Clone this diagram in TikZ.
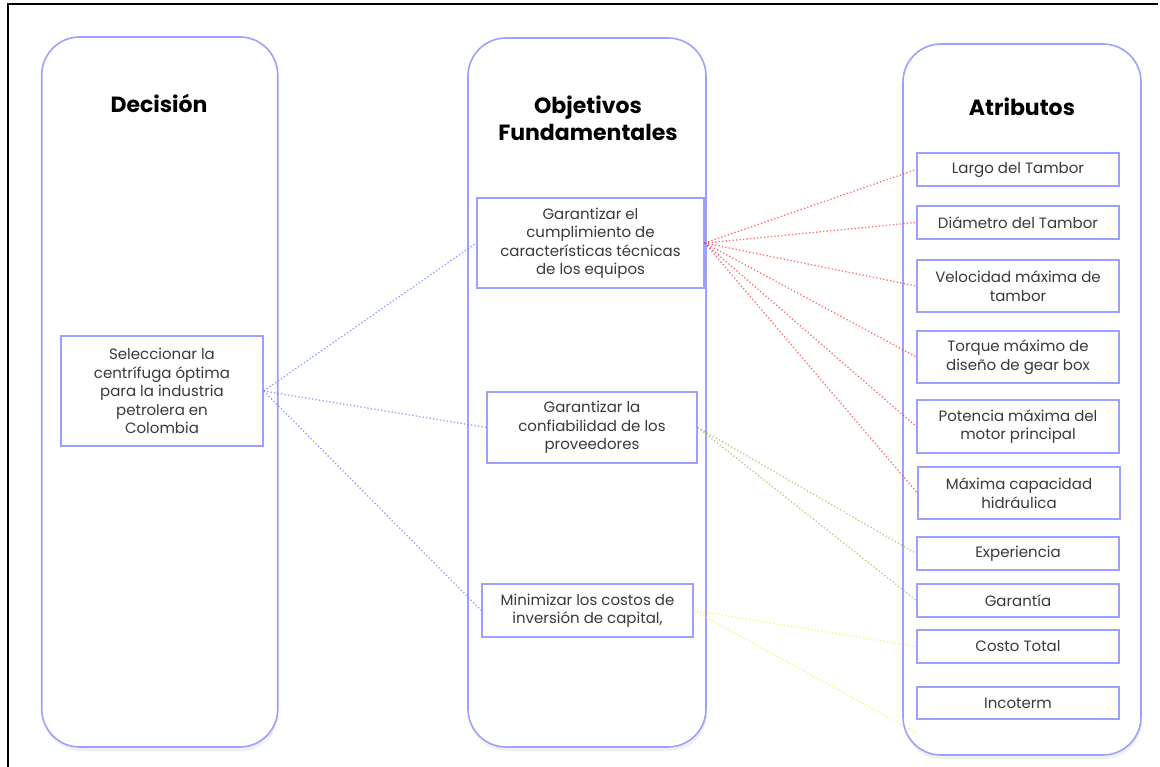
\documentclass[tikz,border=0pt]{standalone}
\usepackage{fontspec}
\setmainfont{Poppins}
\usetikzlibrary{shadows}
\definecolor{frameblue}{HTML}{9DA0FF}
\definecolor{linkblue}{HTML}{6F7CFF}
\definecolor{linkred}{HTML}{FF3B3B}
\definecolor{linkgreen}{HTML}{9BBB59}
\definecolor{linkyellow}{HTML}{F2F24A}
\definecolor{bodytext}{HTML}{3A3A3A}
\tikzset{
  column/.style={draw=frameblue, line width=1.6pt, rounded corners=38pt,
    fill=white, drop shadow={opacity=0.12, shadow xshift=1pt, shadow yshift=-4pt}},
  title/.style={font=\fontsize{22}{27}\selectfont\bfseries, align=center, text=black},
  ibox/.style={draw=frameblue, line width=1.4pt, fill=white, align=center,
    inner sep=0pt, text=bodytext, font=\fontsize{15}{18.5}\selectfont},
  rbox/.style={ibox, minimum width=202pt},
  link/.style={line width=1.3pt, dash pattern=on 1.3pt off 2.2pt, opacity=0.75},
}
\begin{document}
\begin{tikzpicture}[x=1pt,y=-1pt]
\useasboundingbox (0,0) rectangle (1160,767);
% outer frame
\draw[line width=2pt] (7.5,767) -- (7.5,4.5) -- (1158,4.5);

% the three columns
\node[column, minimum width=236pt, minimum height=710pt] (colD) at (159.75,392) {};
\node[column, minimum width=238pt, minimum height=709pt] (colO) at (587,392.5) {};
\node[column, minimum width=238pt, minimum height=711pt] (colA) at (1022,399.5) {};

\node[title] (tD) at (159,103) {Decisión};
\node[title] (tO) at (588,118) {Objetivos\\Fundamentales};
\node[title] (tA) at (1022,107) {Atributos};

% decision
\node[ibox, minimum width=202pt, minimum height=110pt] (dec) at (162,391)
  {Seleccionar la\\centrífuga óptima\\para la industria\\petrolera en\\Colombia};

% objectives
\node[ibox, minimum width=227pt, minimum height=90pt] (o1) at (590.5,243)
  {Garantizar el\\cumplimiento de\\características técnicas\\de los equipos};
\node[ibox, minimum width=210pt, minimum height=71pt] (o2) at (592,427.5)
  {Garantizar la\\confiabilidad de los\\proveedores};
\node[ibox, minimum width=211pt, minimum height=53pt] (o3) at (587.5,610.5)
  {Minimizar los costos de\\inversión de capital,};

% attributes
\node[rbox, minimum height=33pt] (a1) at (1018,169.5) {Largo del Tambor};
\node[rbox, minimum height=33pt] (a2) at (1018,222.5) {Diámetro del Tambor};
\node[rbox, minimum height=52pt] (a3) at (1018,286) {Velocidad máxima de\\tambor};
\node[rbox, minimum height=52pt] (a4) at (1018,357) {Torque máximo de\\diseño de gear box};
\node[rbox, minimum height=53pt] (a5) at (1018,426.5) {Potencia máxima del\\motor principal};
\node[rbox, minimum height=52pt] (a6) at (1019,493) {Máxima capacidad\\hidráulica};
\node[rbox, minimum height=33pt] (a7) at (1018,553.5) {Experiencia};
\node[rbox, minimum height=33pt] (a8) at (1018,600.5) {Garantía};
\node[rbox, minimum height=33pt] (a9) at (1018,646.5) {Costo Total};
\node[rbox, minimum height=32pt] (a10) at (1018,703) {Incoterm};
\coordinate (incEnd) at (917,733);

% links decision -> objectives
\foreach \t in {o1,o2,o3}
  \draw[link, linkblue] (dec.east) -- (\t.west);
% technical objective -> attributes
\foreach \t in {a1,a2,a3,a4,a5,a6}
  \draw[link, linkred] (o1.east) -- (\t.west);
% supplier objective -> attributes
\foreach \t in {a7,a8}
  \draw[link, linkgreen] (o2.east) -- (\t.west);
% cost objective -> attributes
\draw[link, linkyellow] (o3.east) -- (a9.west);
\draw[link, linkyellow] (o3.east) -- (incEnd);
\end{tikzpicture}
\end{document}
